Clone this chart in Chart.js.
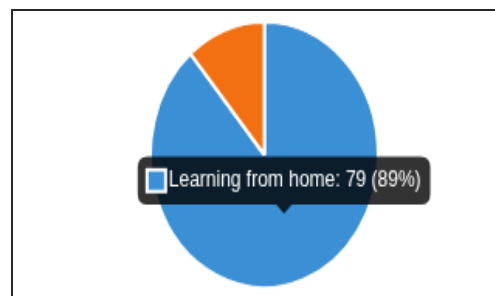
<!DOCTYPE html>
<html>
<head>
<meta charset="utf-8">
<script src="https://cdn.jsdelivr.net/npm/chart.js@4/dist/chart.umd.min.js"></script>
<style>
    html, body { margin: 0; padding: 0; background: #fff; overflow: hidden; }
    body { width: 495px; height: 296px; position: relative; }
    #frame {
        position: absolute; left: 11px; top: 9px; right: 0; bottom: 0;
        border-left: 2px solid #2a2a2a; border-top: 2px solid #2a2a2a;
    }
    #stage {
        position: absolute; left: 0; top: 0;
        width: 320px; height: 164px;
        transform: scale(1.55, 1.81);
        transform-origin: 0 0;
    }
</style>
</head>
<body>
<div id="frame"></div>
<div id="stage"><canvas id="learningChart"></canvas></div>
<script>
const categories = ['Learning from home', 'Learning at school'];
const responses = [79, 10];
const sliceColors = ['#3a8fd5', '#f27012'];

Chart.defaults.font.family = "'Liberation Sans', Arial, sans-serif";

const total = responses.reduce((sum, v) => sum + v, 0);

const ctx = document.getElementById('learningChart').getContext('2d');
const learningChart = new Chart(ctx, {
    type: 'pie',
    data: {
        labels: categories,
        datasets: [{
            data: responses,
            backgroundColor: sliceColors,
            borderColor: '#fff',
            borderWidth: 2
        }]
    },
    options: {
        responsive: true,
        maintainAspectRatio: false,
        animation: false,
        devicePixelRatio: 1,
        events: [],
        layout: { padding: { left: 96, top: 11, right: 75, bottom: 4 } },
        plugins: {
            legend: { display: false },
            tooltip: {
                animation: false,
                yAlign: 'bottom',
                xAlign: 'center',
                callbacks: {
                    title: () => '',
                    label: item => {
                        const pct = Math.round(item.raw / total * 100);
                        return `${item.label}: ${item.raw} (${pct}%)`;
                    }
                }
            }
        }
    }
});

function showTip() {
    learningChart.tooltip.setActiveElements([{ datasetIndex: 0, index: 0 }], { x: 0, y: 0 });
    learningChart.update('none');
}
showTip();
setTimeout(showTip, 50);
</script>
</body>
</html>
